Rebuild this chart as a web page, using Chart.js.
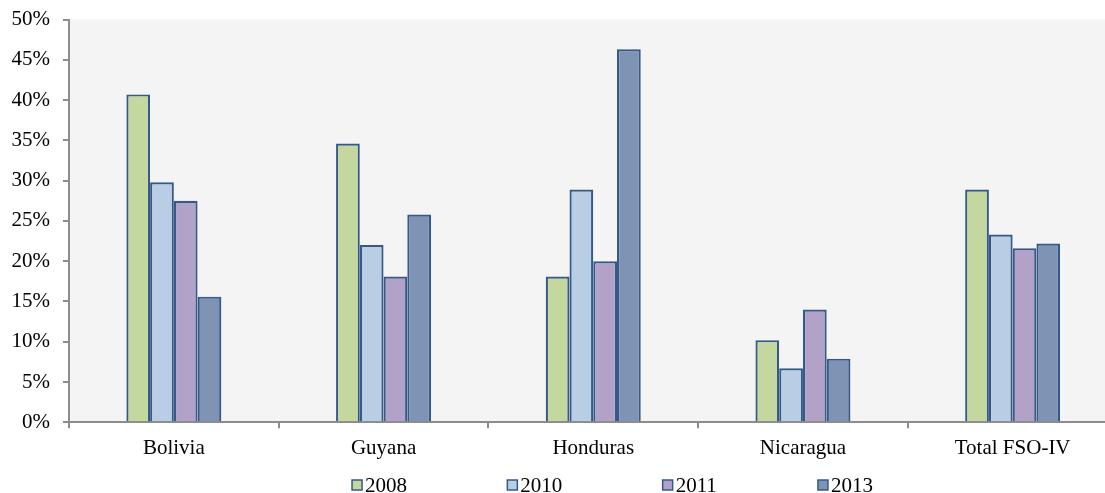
<!DOCTYPE html>
<html>
<head>
<meta charset="utf-8">
<script src="https://cdn.jsdelivr.net/npm/chart.js@4.4.1/dist/chart.umd.min.js"></script>
<style>
  html, body { margin: 0; padding: 0; background: #ffffff; overflow: hidden; }
  #wrap { width: 1125px; height: 493px; }
</style>
</head>
<body>
<div id="wrap"><canvas id="chart" width="1125" height="493"></canvas></div>
<script>
// Share of portfolio by country and year (percent)
const categories = ['Bolivia', 'Guyana', 'Honduras', 'Nicaragua', 'Total FSO-IV'];
const years = ['2008', '2010', '2011', '2013'];
const values2008 = [40.7, 34.6, 18.1, 10.2, 28.9];
const values2010 = [29.8, 22.0, 28.9, 6.7, 23.3];
const values2011 = [27.5, 18.1, 20.0, 14.0, 21.6];
const values2013 = [15.6, 25.8, 46.3, 7.9, 22.2];
const yTicks = [0, 5, 10, 15, 20, 25, 30, 35, 40, 45, 50];

const fills = ['#c4d79e', '#b9cde5', '#b3a2c7', '#7f94b5'];
const edge = '#365a88';
const fontFamily = '"Liberation Serif", "Times New Roman", serif';

const seriesValues = [values2008, values2010, values2011, values2013];

// Light grey plot background
const plotBackground = {
  id: 'plotBackground',
  beforeDraw(chart) {
    const { ctx, chartArea: a } = chart;
    ctx.save();
    ctx.fillStyle = '#f4f4f4';
    ctx.fillRect(a.left, a.top, a.right - a.left, a.bottom - a.top);
    ctx.restore();
  }
};

// Bottom legend with wide, evenly spaced entries
const spacedLegend = {
  id: 'spacedLegend',
  afterDraw(chart, args, opts) {
    const { ctx } = chart;
    const sets = chart.data.datasets;
    const step = opts.step;
    const box = opts.box;
    ctx.save();
    ctx.font = opts.fontSize + 'px ' + fontFamily;
    ctx.textBaseline = 'middle';
    ctx.textAlign = 'left';
    const lastText = ctx.measureText(sets[sets.length - 1].label).width;
    const total = step * (sets.length - 1) + box + opts.gap + lastText;
    let x = opts.centerX - total / 2;
    const y = opts.y;
    sets.forEach(ds => {
      ctx.fillStyle = ds.backgroundColor;
      ctx.fillRect(x, y - box / 2, box, box);
      ctx.strokeStyle = ds.borderColor;
      ctx.lineWidth = 1.5;
      ctx.strokeRect(x, y - box / 2, box, box);
      ctx.fillStyle = '#000000';
      ctx.fillText(ds.label, x + box + opts.gap, y + 1);
      x += step;
    });
    ctx.restore();
  }
};

new Chart(document.getElementById('chart'), {
  type: 'bar',
  data: {
    labels: categories,
    datasets: years.map((yr, i) => ({
      label: yr,
      data: seriesValues[i],
      backgroundColor: fills[i],
      borderColor: edge,
      borderWidth: 2.2,
      borderSkipped: 'bottom',
      barPercentage: 1.0,
      categoryPercentage: 0.453
    }))
  },
  plugins: [plotBackground, spacedLegend],
  options: {
    responsive: false,
    animation: false,
    devicePixelRatio: 1,
    layout: { padding: { top: 19.5, right: 7.5, left: 0, bottom: 0 } },
    plugins: {
      legend: { display: false },
      tooltip: { enabled: false },
      spacedLegend: { centerX: 612.5, y: 485, step: 155.3, box: 10, gap: 3, fontSize: 21 }
    },
    scales: {
      x: {
        offset: true,
        afterFit(scale) { scale.height = 70.7; },
        grid: {
          offset: true,
          drawOnChartArea: false,
          drawTicks: true,
          tickLength: 6,
          color: '#8c8c8c',
          lineWidth: 2
        },
        border: { display: true, color: '#8c8c8c', width: 2 },
        ticks: {
          color: '#000000',
          font: { family: fontFamily, size: 21 },
          padding: 8,
          maxRotation: 0,
          autoSkip: false
        }
      },
      y: {
        min: 0,
        max: 50,
        afterFit(scale) {
          scale.width = 69;
          scale.paddingTop = 0;
          scale.paddingBottom = 0;
        },
        afterBuildTicks(scale) { scale.ticks = yTicks.map(v => ({ value: v })); },
        grid: {
          drawOnChartArea: false,
          drawTicks: true,
          tickLength: 6,
          color: '#8c8c8c',
          lineWidth: 2
        },
        border: { display: true, color: '#8c8c8c', width: 2 },
        ticks: {
          color: '#000000',
          font: { family: fontFamily, size: 21 },
          padding: 13,
          callback: v => v + '%'
        }
      }
    }
  }
});
</script>
</body>
</html>
